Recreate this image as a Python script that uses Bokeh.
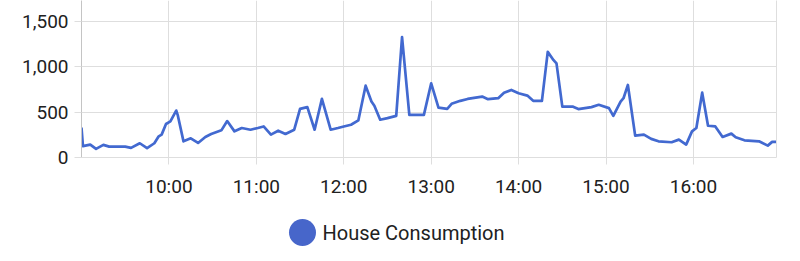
import pandas as pd
from bokeh.plotting import figure
from bokeh.layouts import column
from bokeh.models import (ColumnDataSource, FixedTicker, NumeralTickFormatter,
                          DatetimeTickFormatter, LinearAxis, Range1d)
from bokeh.core.properties import value
from bokeh.embed import file_html
from bokeh.resources import INLINE

# House consumption (W) over the day
day = "2024-05-14"
times = [
    "09:00", "09:01", "09:06", "09:10", "09:15", "09:19", "09:30", "09:34", "09:40", "09:45",
    "09:50", "09:53", "09:55", "09:58", "10:01", "10:05", "10:06", "10:10", "10:15", "10:20",
    "10:25", "10:29", "10:36", "10:40", "10:45", "10:50", "10:56", "11:01", "11:05", "11:10",
    "11:15", "11:20", "11:26", "11:30", "11:35", "11:40", "11:45", "11:51", "11:56", "12:00",
    "12:05", "12:10", "12:15", "12:19", "12:21", "12:25", "12:30", "12:36", "12:40", "12:45",
    "12:55", "13:00", "13:05", "13:11", "13:14", "13:20", "13:25", "13:35", "13:39", "13:46",
    "13:50", "13:55", "14:00", "14:06", "14:10", "14:16", "14:20", "14:24", "14:26", "14:30",
    "14:37", "14:41", "14:50", "14:55", "15:02", "15:05", "15:10", "15:12", "15:15", "15:20",
    "15:26", "15:31", "15:36", "15:45", "15:50", "15:55", "15:59", "16:02", "16:06", "16:10",
    "16:15", "16:20", "16:26", "16:29", "16:35", "16:45", "16:51", "16:54", "16:57",
]
house_w = [
    330, 125, 142, 95, 139, 120, 120, 106, 157, 102,
    157, 233, 252, 369, 397, 517, 470, 178, 211, 160,
    226, 259, 299, 401, 288, 325, 306, 325, 342, 252,
    295, 259, 306, 536, 555, 306, 645, 306, 325, 342,
    361, 408, 791, 616, 569, 416, 434, 459, 1327, 470,
    470, 817, 550, 536, 591, 624, 645, 671, 642, 653,
    714, 744, 708, 682, 624, 624, 1163, 1072, 1036, 561,
    561, 533, 555, 580, 544, 459, 616, 653, 799, 241,
    252, 205, 178, 168, 197, 142, 288, 325, 714, 350,
    342, 226, 263, 222, 189, 178, 131, 172, 172,
]
hour_ticks = ["10:00", "11:00", "12:00", "13:00", "14:00", "15:00", "16:00"]
y_ticks = [0, 500, 1000, 1500]
series_name = "House Consumption"

LINE_COLOR = "#4269d0"
SWATCH_COLOR = "#4766ca"
GRID_COLOR = "#dedede"
TEXT_COLOR = "#212121"
FONT = "Roboto"

# plot frame edges in page pixels (shared by the chart and the legend row)
FRAME_LEFT, FRAME_RIGHT = 81, 776

def stamp(hhmm):
    return pd.Timestamp(f"{day} {hhmm}")

src = ColumnDataSource(dict(t=[stamp(s) for s in times], w=house_w))
x_ticks_ms = [stamp(s).value / 1e6 for s in hour_ticks]

p = figure(width=800, height=200, x_axis_type="datetime",
           x_range=(stamp("09:00"), stamp("16:57")), y_range=(0, 1729),
           output_backend="svg", toolbar_location=None,
           min_border_left=FRAME_LEFT, min_border_right=800 - FRAME_RIGHT,
           min_border_top=0, min_border_bottom=42)
p.outline_line_color = None
p.background_fill_color = "white"
p.border_fill_color = "white"

p.line("t", "w", source=src, line_color=LINE_COLOR, line_width=2.7, line_join="round")

# axes
p.xaxis.ticker = FixedTicker(ticks=x_ticks_ms)
p.xaxis.formatter = DatetimeTickFormatter(hours="%H:%M", hourmin="%H:%M", minutes="%H:%M",
                                          days="%H:%M")
p.yaxis.ticker = FixedTicker(ticks=y_ticks)
p.yaxis.formatter = NumeralTickFormatter(format="0,0")
for ax in (p.xaxis[0], p.yaxis[0]):
    ax.major_label_text_font = FONT
    ax.major_label_text_font_size = "19px"
    ax.major_label_text_color = TEXT_COLOR
    ax.major_tick_in = 0
    ax.major_tick_out = 7
    ax.major_tick_line_color = GRID_COLOR
    ax.minor_tick_line_color = None
    ax.axis_line_color = GRID_COLOR
p.yaxis.axis_line_color = "#c4c4c4"
p.xaxis.major_label_standoff = 10
p.yaxis.major_label_standoff = 6

right = LinearAxis(ticker=FixedTicker(ticks=[]), axis_line_color=GRID_COLOR,
                   major_tick_line_color=None, minor_tick_line_color=None,
                   major_label_text_font_size="0px")
p.add_layout(right, "right")

p.xgrid.grid_line_color = GRID_COLOR
p.ygrid.grid_line_color = GRID_COLOR

# legend row; its frame is aligned with the chart frame, so map x to page pixels
leg = figure(width=800, height=61, x_range=Range1d(FRAME_LEFT, FRAME_RIGHT),
             y_range=Range1d(0, 61),
             x_axis_location=None, y_axis_location=None,
             output_backend="svg", toolbar_location=None,
             min_border_left=0, min_border_right=0, min_border_top=0, min_border_bottom=0)
leg.grid.visible = False
leg.outline_line_color = None
leg.border_fill_color = "white"
leg.background_fill_color = "white"
leg.scatter(x=[302], y=[29], size=27, marker="circle", fill_color=SWATCH_COLOR, line_color=None)
leg.text(x=[322], y=[29], text=[series_name], text_font=value(FONT), text_font_size="20px",
         text_color=TEXT_COLOR, text_baseline="middle", text_align="left")

layout = column(p, leg, spacing=0)
open("out.html", "w").write(file_html(layout, INLINE))
